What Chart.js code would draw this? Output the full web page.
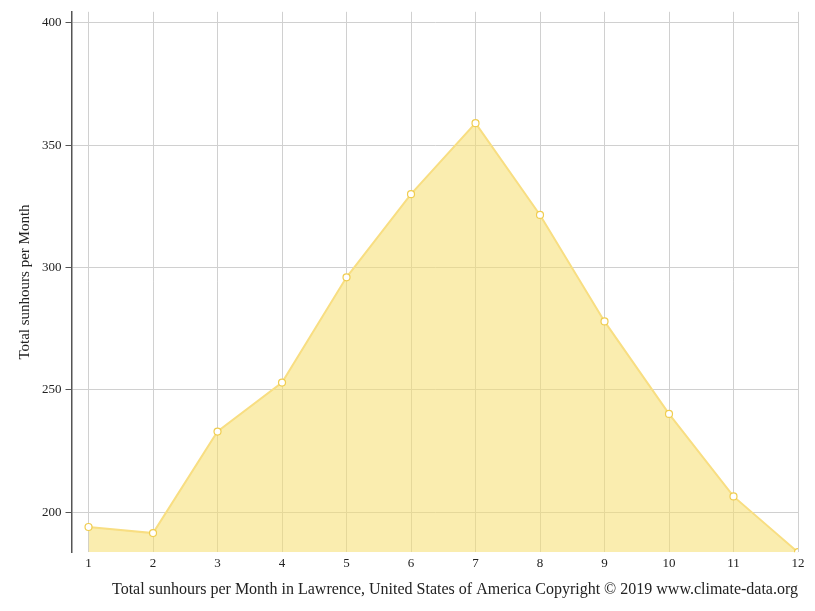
<!DOCTYPE html>
<html><head><meta charset="utf-8">
<script src="https://cdn.jsdelivr.net/npm/chart.js@4"></script>
<style>html,body{margin:0;padding:0;background:#fff}#w{width:815px;height:611px}</style>
</head><body><div id="w"><canvas id="c"></canvas></div>
<script>
const months = [1,2,3,4,5,6,7,8,9,10,11,12];
const sunhours = [194,191.5,233,253,296,330,359,321.5,278,240.2,206.5,183.7];
const yTicks = [200,250,300,350,400];
const font = {family:'"Liberation Serif", serif', size:13};
new Chart(document.getElementById('c'), {
  type:'line',
  data:{datasets:[{
    data: months.map((m,i)=>({x:m,y:sunhours[i]})),
    borderColor:'rgba(248,222,130,1)', backgroundColor:'rgba(246,222,110,0.55)',
    fill:'start', borderWidth:2, tension:0,
    pointRadius:3.5, pointBackgroundColor:'#fff', pointBorderColor:'rgba(240,205,80,1)', pointBorderWidth:1.2
  }]},
  options:{
    responsive:true, maintainAspectRatio:false, animation:false,
    layout:{padding:{top:9,right:17,left:12,bottom:8}},
    plugins:{legend:{display:false},tooltip:{enabled:false}},
    scales:{
      x:{type:'linear', min:0.736, max:12,
        afterBuildTicks:a=>{a.ticks=months.map(v=>({value:v}));},
        ticks:{font, color:'#222', padding:4, autoSkip:false},
        grid:{color:'#d0d0d0', drawTicks:false}, border:{display:false},
        title:{display:true, text:'Total sunhours per Month in Lawrence, United States of America Copyright © 2019 www.climate-data.org', font:{family:font.family,size:16}, color:'#222', align:'end', padding:{top:4}}
      },
      y:{min:183.7, max:404.5,
        afterBuildTicks:a=>{a.ticks=yTicks.map(v=>({value:v}));},
        ticks:{font, color:'#222', padding:4},
        grid:{color:'#d0d0d0', tickLength:6, tickColor:'#555'}, border:{display:true,color:'#555',width:1.5},
        title:{display:true, text:'Total sunhours per Month', font:{family:font.family,size:15}, color:'#222'}
      }
    }
  }
});
</script></body></html>
